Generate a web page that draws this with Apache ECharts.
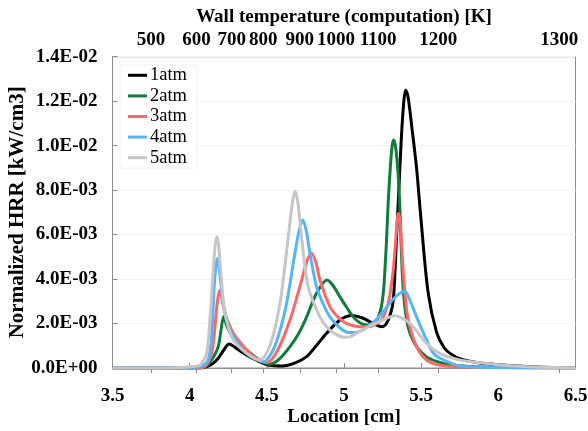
<!DOCTYPE html>
<html>
<head>
<meta charset="utf-8">
<script src="https://cdn.jsdelivr.net/npm/echarts@6/dist/echarts.min.js"></script>
<style>
  html, body { margin: 0; padding: 0; background: #fff; }
  #chart { width: 588px; height: 431px; }
</style>
</head>
<body>
<div id="chart"></div>
<script>
// series names
const seriesNames = ['1atm', '2atm', '3atm', '4atm', '5atm']
const seriesColors = ['#000000', '#0e7c3a', '#ff6666', '#55b4fa', '#c6c6c6']

// location [cm] and HRR [kW/cm3]
const loc1 = [3.5, 4.0, 4.08, 4.11, 4.15, 4.185, 4.22, 4.256, 4.29, 4.33, 4.37, 4.455, 4.52, 4.6, 4.68, 4.758, 4.82, 4.887, 4.974, 5.05, 5.12, 5.19, 5.243, 5.27, 5.30, 5.32, 5.34, 5.36, 5.38, 5.40, 5.415, 5.44, 5.47, 5.50, 5.545, 5.6, 5.65, 5.7, 5.75, 5.85, 6.0, 6.25, 6.5]
const hrr1 = [0, 0, 0.00001, 0.00006, 0.0002, 0.00044, 0.0008, 0.00108, 0.00095, 0.00075, 0.00058, 0.00028, 0.00012, 0.00009, 0.00022, 0.00051, 0.001, 0.00156, 0.00216, 0.00236, 0.00225, 0.002, 0.00186, 0.00195, 0.0024, 0.0031, 0.0058, 0.0087, 0.0113, 0.0125, 0.0122, 0.0108, 0.009, 0.0066, 0.0034, 0.0016, 0.0009, 0.0006, 0.00042, 0.00026, 0.00015, 0.00005, 0.00001]

const loc2 = [3.5, 4.05, 4.1, 4.142, 4.185, 4.205, 4.22, 4.24, 4.272, 4.32, 4.37, 4.455, 4.52, 4.58, 4.65, 4.71, 4.758, 4.822, 4.89, 4.93, 4.974, 5.02, 5.06, 5.1, 5.146, 5.2, 5.237, 5.255, 5.265, 5.276, 5.286, 5.3, 5.312, 5.322, 5.335, 5.35, 5.362, 5.373, 5.385, 5.405, 5.427, 5.47, 5.535, 5.6, 5.7, 5.9, 6.5]
const hrr2 = [0, 0, 0.00005, 0.00036, 0.00096, 0.0018, 0.0023, 0.0019, 0.00148, 0.0011, 0.0008, 0.00035, 0.00018, 0.0004, 0.00096, 0.0016, 0.0023, 0.00336, 0.00396, 0.0037, 0.0032, 0.0027, 0.0023, 0.00205, 0.00193, 0.002, 0.0026, 0.0034, 0.0044, 0.0058, 0.0074, 0.009, 0.01, 0.01025, 0.0099, 0.0088, 0.0072, 0.005, 0.0034, 0.0022, 0.00157, 0.00096, 0.0005, 0.0003, 0.00013, 0.00004, 0]

const loc3 = [3.5, 4.05, 4.1, 4.142, 4.164, 4.18, 4.195, 4.21, 4.229, 4.283, 4.37, 4.43, 4.5, 4.57, 4.65, 4.714, 4.76, 4.79, 4.82, 4.844, 4.909, 4.96, 5.017, 5.1, 5.16, 5.2, 5.243, 5.286, 5.319, 5.34, 5.352, 5.365, 5.383, 5.4, 5.416, 5.47, 5.535, 5.62, 5.8, 6.5]
const hrr3 = [0, 0, 0.00008, 0.00066, 0.00186, 0.003, 0.0035, 0.0031, 0.00246, 0.00156, 0.00081, 0.00045, 0.00024, 0.0008, 0.00216, 0.00366, 0.0048, 0.00516, 0.0047, 0.00396, 0.00276, 0.0023, 0.002, 0.00186, 0.00186, 0.00195, 0.00216, 0.0029, 0.0044, 0.0062, 0.00695, 0.0065, 0.0044, 0.003, 0.00216, 0.00096, 0.00036, 0.00013, 0.00004, 0]

const loc4 = [3.5, 4.0, 4.08, 4.12, 4.142, 4.159, 4.17, 4.179, 4.19, 4.218, 4.261, 4.347, 4.4, 4.477, 4.54, 4.59, 4.628, 4.682, 4.71, 4.732, 4.755, 4.779, 4.822, 4.87, 4.909, 4.974, 5.03, 5.08, 5.13, 5.19, 5.25, 5.3, 5.35, 5.394, 5.43, 5.47, 5.535, 5.578, 5.62, 5.73, 5.9, 6.5]
const hrr4 = [0, 0.00002, 0.0001, 0.00036, 0.00141, 0.00366, 0.0046, 0.00493, 0.0046, 0.0029, 0.00171, 0.00081, 0.0005, 0.00028, 0.0008, 0.0018, 0.0029, 0.00516, 0.0062, 0.00666, 0.0062, 0.00516, 0.00366, 0.0028, 0.0023, 0.0018, 0.0016, 0.0016, 0.00175, 0.00205, 0.0025, 0.00295, 0.0033, 0.00345, 0.003, 0.0023, 0.00126, 0.00067, 0.00045, 0.00013, 0.00003, 0]

const loc5 = [3.5, 3.9, 4.0, 4.067, 4.11, 4.131, 4.153, 4.165, 4.175, 4.188, 4.2, 4.229, 4.283, 4.37, 4.455, 4.52, 4.585, 4.639, 4.665, 4.682, 4.7, 4.725, 4.768, 4.844, 4.9, 4.952, 5.0, 5.04, 5.1, 5.17, 5.233, 5.33, 5.4, 5.448, 5.535, 5.62, 5.75, 5.9, 6.0, 6.2, 6.5]
const hrr5 = [0, 0.00001, 0.00006, 0.00013, 0.00067, 0.00216, 0.0044, 0.0055, 0.0059, 0.0055, 0.0044, 0.00246, 0.00126, 0.00066, 0.00036, 0.001, 0.0029, 0.0059, 0.0074, 0.00795, 0.0075, 0.0059, 0.00366, 0.0023, 0.00175, 0.0015, 0.00138, 0.00141, 0.00165, 0.0019, 0.0021, 0.00235, 0.00215, 0.00186, 0.00111, 0.00066, 0.00036, 0.00022, 0.00015, 0.00006, 0.00001]

// wall temperature axis (top): tick labels and the location they sit at
const tempLabels = ['500', '600', '700', '800', '900', '1000', '1100', '1200', '1300']
const tempLocs = [3.749, 4.045, 4.272, 4.477, 4.714, 4.948, 5.221, 5.61, 6.394]

const locs = [loc1, loc2, loc3, loc4, loc5]
const hrrs = [hrr1, hrr2, hrr3, hrr4, hrr5]

const serif = '"Liberation Serif", "DejaVu Serif", serif'

const fmtExp = (v) => {
  if (v === 0) return '0.0E+00'
  let e = Math.floor(Math.log10(Math.abs(v)) + 1e-9)
  let m = v / Math.pow(10, e)
  const sign = e < 0 ? '-' : '+'
  return m.toFixed(1) + 'E' + sign + String(Math.abs(e)).padStart(2, '0')
}

const chart = echarts.init(document.getElementById('chart'), null, { renderer: 'canvas' })

const option = {
  animation: false,
  textStyle: { fontFamily: serif },
  grid: {
    left: 112.5,
    right: 12.5,
    top: 56.7,
    bottom: 63,
    outerBoundsMode: 'none',
    show: true,
    borderColor: '#8c8c8c',
    borderWidth: 1
  },
  legend: {
    orient: 'vertical',
    left: 120,
    top: 65,
    padding: [0, 10, 0, 8],
    backgroundColor: '#ffffff',
    borderColor: '#f2f2f2',
    borderWidth: 1,
    icon: 'rect',
    itemWidth: 19,
    itemHeight: 3,
    itemGap: 0,
    textStyle: { fontFamily: serif, fontSize: 18.5, color: '#000', lineHeight: 20.6, padding: [0, 0, 0, -2] },
    data: seriesNames
  },
  xAxis: [
    {
      type: 'value',
      position: 'bottom',
      min: 3.5,
      max: 6.5,
      interval: 0.5,
      name: 'Location [cm]',
      nameLocation: 'middle',
      nameGap: 40,
      nameMoveOverlap: false,
      nameTextStyle: { fontFamily: serif, fontSize: 19, fontWeight: 'bold', color: '#000' },
      axisLine: { show: true, onZero: false, lineStyle: { color: '#8c8c8c' } },
      axisTick: { show: true, inside: true, length: 5, lineStyle: { color: '#8c8c8c' } },
      axisLabel: { margin: 19, fontFamily: serif, fontSize: 19, fontWeight: 'bold', color: '#000' },
      splitLine: { show: false }
    },
    {
      type: 'value',
      position: 'top',
      min: 3.5,
      max: 6.5,
      name: 'Wall temperature (computation) [K]',
      nameLocation: 'middle',
      nameGap: 30,
      nameMoveOverlap: false,
      nameTextStyle: { fontFamily: serif, fontSize: 19, fontWeight: 'bold', color: '#000' },
      axisLine: { show: true, lineStyle: { color: '#8c8c8c' } },
      axisTick: { show: true, inside: true, length: 5, customValues: tempLocs, lineStyle: { color: '#8c8c8c' } },
      axisLabel: {
        margin: 7,
        fontFamily: serif,
        fontSize: 19,
        fontWeight: 'bold',
        color: '#000',
        customValues: tempLocs,
        formatter: (v) => {
          let k = 0
          tempLocs.forEach((t, i) => { if (Math.abs(t - v) < Math.abs(tempLocs[k] - v)) k = i })
          return tempLabels[k]
        }
      },
      splitLine: { show: false }
    }
  ],
  yAxis: {
    type: 'value',
    min: 0,
    max: 0.014,
    interval: 0.002,
    name: 'Normalized HRR [kW/cm3]',
    nameLocation: 'middle',
    nameRotate: 90,
    nameGap: 84,
    nameMoveOverlap: false,
    nameTextStyle: { fontFamily: serif, fontSize: 21, fontWeight: 'bold', color: '#000' },
    axisLine: { show: true, lineStyle: { color: '#8c8c8c' } },
    axisTick: { show: true, inside: true, length: 5, lineStyle: { color: '#8c8c8c' } },
    axisLabel: { margin: 15, fontFamily: serif, fontSize: 19, fontWeight: 'bold', color: '#000', formatter: fmtExp },
    splitLine: { show: true, lineStyle: { color: '#f2f2f2', width: 1 } }
  },
  series: seriesNames.map((name, s) => ({
    name: name,
    type: 'line',
    xAxisIndex: 0,
    smooth: 0.3,
    symbol: 'none',
    lineStyle: { width: 3, color: seriesColors[s] },
    itemStyle: { color: seriesColors[s] },
    data: locs[s].map((x, i) => [x, hrrs[s][i]])
  }))
}

chart.setOption(option)
</script>
</body>
</html>
